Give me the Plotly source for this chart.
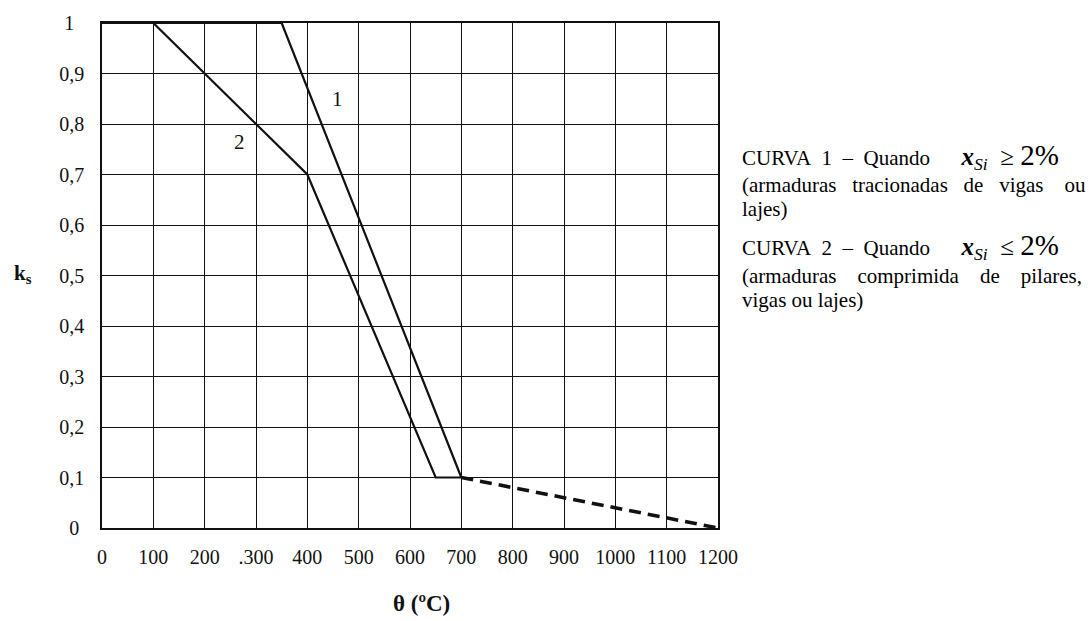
import plotly.graph_objects as go

# Reduction factor k_s of reinforcing steel strength vs. temperature
curve1_theta = [0, 350, 700]
curve1_ks = [1.0, 1.0, 0.1]

curve2_theta = [0, 100, 400, 650, 700]
curve2_ks = [1.0, 1.0, 0.7, 0.1, 0.1]

tail_theta = [700, 1200]
tail_ks = [0.1, 0.0]

x_ticks = [0, 100, 200, 300, 400, 500, 600, 700, 800, 900, 1000, 1100, 1200]
x_ticktext = ["0", "100", "200", ".300", "400", "500", "600", "700", "800",
              "900", "1000", "1100", "1200"]
y_ticks = [0, 0.1, 0.2, 0.3, 0.4, 0.5, 0.6, 0.7, 0.8, 0.9, 1.0]
y_ticktext = ["0\u00a0", "0,1", "0,2", "0,3", "0,4", "0,5", "0,6", "0,7",
              "0,8", "0,9", "1\u00a0\u00a0"]

SERIF = "Liberation Serif, Times New Roman, serif"
INK = "#111111"
NB = "\u00a0"

# plot area in pixels (used to place the side notes)
L, R, T, B = 102, 371, 23, 93
PW, PH = 1089 - L - R, 621 - T - B


def px_x(px):
    return (px - L) / PW


def px_y(py):
    return (621 - B - py) / PH


fig = go.Figure()
fig.add_trace(go.Scatter(x=curve1_theta, y=curve1_ks, mode="lines",
                         line=dict(color=INK, width=2.2), showlegend=False))
fig.add_trace(go.Scatter(x=curve2_theta, y=curve2_ks, mode="lines",
                         line=dict(color=INK, width=2.2), showlegend=False))
fig.add_trace(go.Scatter(x=tail_theta, y=tail_ks, mode="lines",
                         line=dict(color=INK, width=3.6, dash="12px,7px"),
                         showlegend=False))

# Curve numbers
fig.add_annotation(x=458, y=0.85, text="1", showarrow=False,
                   font=dict(family=SERIF, size=21, color=INK))
fig.add_annotation(x=267, y=0.765, text="2", showarrow=False,
                   font=dict(family=SERIF, size=21, color=INK))

# Axis titles
fig.add_annotation(xref="paper", yref="paper", x=px_x(23), y=px_y(274),
                   xanchor="center", yanchor="middle",
                   text="<b>k<sub>s</sub></b>", showarrow=False,
                   font=dict(family=SERIF, size=21, color=INK))
fig.add_annotation(xref="paper", yref="paper", x=px_x(421), y=px_y(603),
                   xanchor="center", yanchor="middle",
                   text="<b>θ (ºC)</b>", showarrow=False,
                   font=dict(family=SERIF, size=23, color=INK))

# Curve descriptions
def sp(n):
    return NB * n


cond = ("<span style='font-size:25px'><b><i>x</i></b><sub><i>Si</i></sub>"
        + sp(2) + "{sym}" + NB + "<span style='font-size:29px'>2%</span></span>")
lines = [
    (156, "CURVA" + sp(2) + "1" + sp(2) + "–" + sp(2) + "Quando" + sp(6)
     + cond.format(sym="≥")),
    (185, "(armaduras" + sp(3) + "tracionadas" + sp(3) + "de" + sp(3)
     + "vigas" + sp(4) + "ou"),
    (209, "lajes)"),
    (247, "CURVA" + sp(2) + "2" + sp(2) + "–" + sp(2) + "Quando" + sp(6)
     + cond.format(sym="≤")),
    (276, "(armaduras" + sp(4) + "comprimida" + sp(4) + "de" + sp(4)
     + "pilares,"),
    (300, "vigas ou lajes)"),
]
for ypix, txt in lines:
    fig.add_annotation(xref="paper", yref="paper", x=px_x(740), y=px_y(ypix),
                       xanchor="left", yanchor="middle", text=txt,
                       showarrow=False,
                       font=dict(family=SERIF, size=21, color="#000000"))

fig.update_xaxes(range=[0, 1200], tickvals=x_ticks, ticktext=x_ticktext,
                 showgrid=True, gridcolor=INK, gridwidth=1.4,
                 showline=True, linecolor=INK, linewidth=1.6, mirror=True,
                 zeroline=False, ticks="", ticklabelstandoff=10,
                 tickfont=dict(family=SERIF, size=20, color=INK))
fig.update_yaxes(range=[0, 1], tickvals=y_ticks, ticktext=y_ticktext,
                 showgrid=True, gridcolor=INK, gridwidth=1.4,
                 showline=True, linecolor=INK, linewidth=1.6, mirror=True,
                 zeroline=False, ticks="", ticklabelstandoff=12,
                 tickfont=dict(family=SERIF, size=20, color=INK))

fig.update_layout(width=1089, height=621, autosize=False,
                  margin=dict(l=L, r=R, t=T, b=B),
                  plot_bgcolor="white", paper_bgcolor="white")

fig.write_html("out.html")
